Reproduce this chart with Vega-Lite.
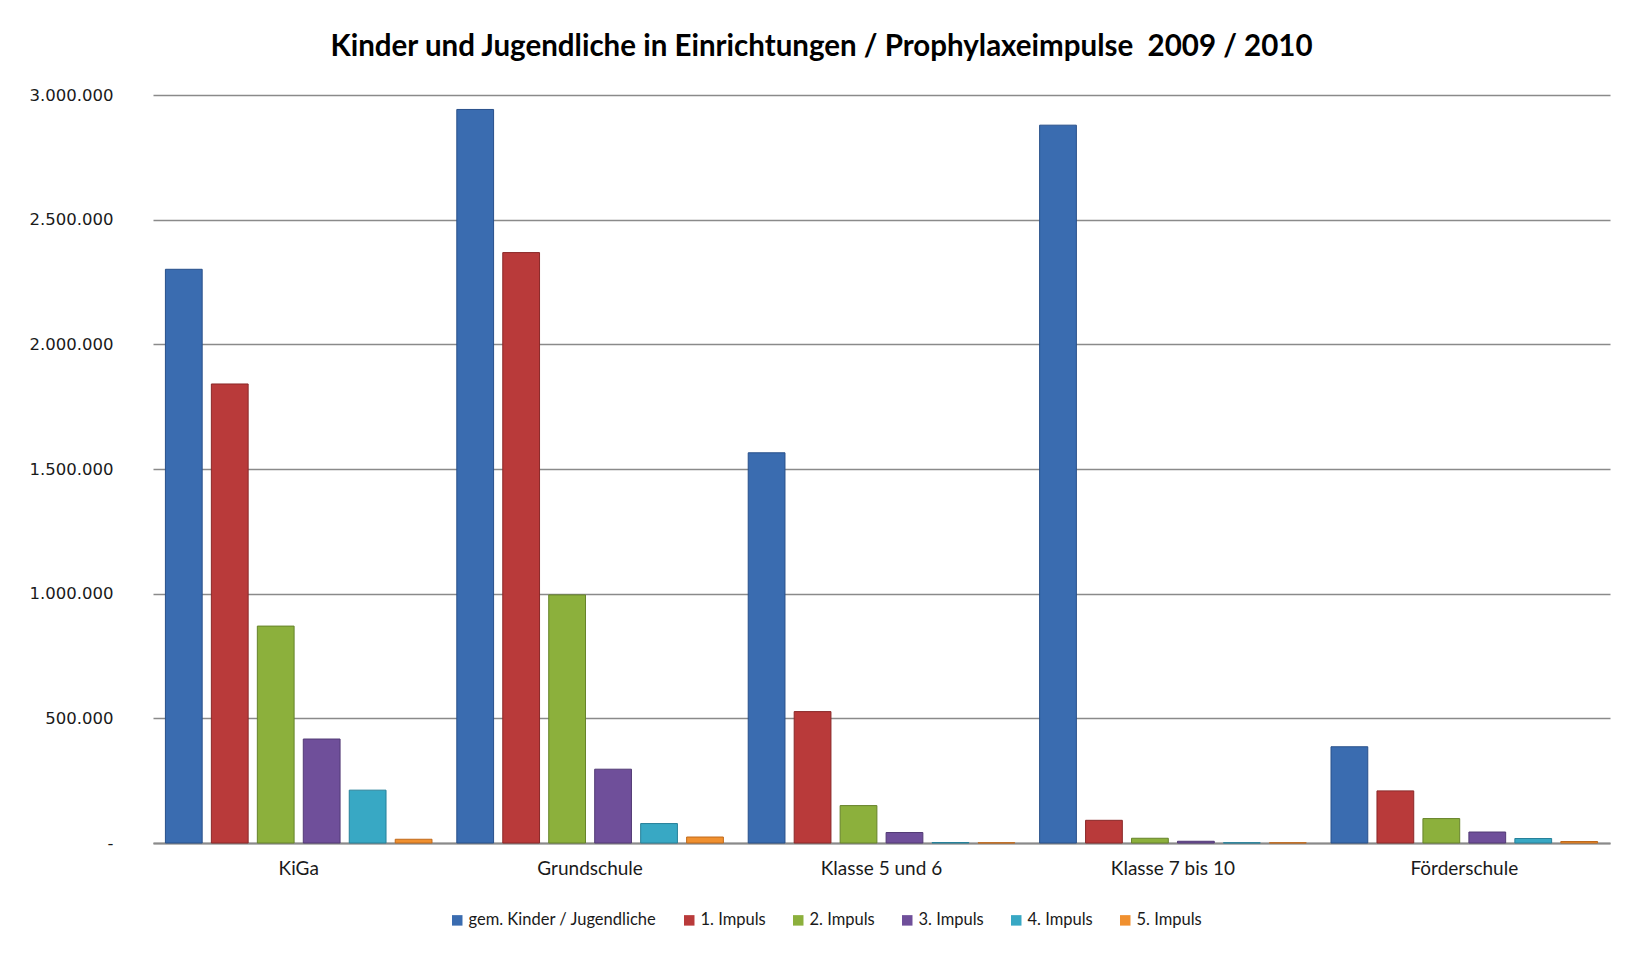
{
  "$schema": "https://vega.github.io/schema/vega-lite/v6.json",
  "width": 1457,
  "height": 748,
  "autosize": {"type": "none"},
  "padding": {"left": 153, "top": 95, "right": 26, "bottom": 111},
  "background": "white",
  "config": {
    "view": {"stroke": null},
    "axis": {"gridColor": "#8a8a8a", "gridWidth": 1.5}
  },
  "title": {
    "text": "Kinder und Jugendliche in Einrichtungen / Prophylaxeimpulse\u00a0 2009 / 2010",
    "font": "Lato",
    "fontSize": 29.5,
    "fontWeight": "bold",
    "color": "#000000",
    "anchor": "middle",
    "dx": -60,
    "offset": 25
  },
  "data": {
    "values": [
      {"Einrichtung": "KiGa", "Serie": "gem. Kinder / Jugendliche", "Wert": 2301000},
      {"Einrichtung": "KiGa", "Serie": "1. Impuls", "Wert": 1841000},
      {"Einrichtung": "KiGa", "Serie": "2. Impuls", "Wert": 870000},
      {"Einrichtung": "KiGa", "Serie": "3. Impuls", "Wert": 417000},
      {"Einrichtung": "KiGa", "Serie": "4. Impuls", "Wert": 212000},
      {"Einrichtung": "KiGa", "Serie": "5. Impuls", "Wert": 15000},
      {"Einrichtung": "Grundschule", "Serie": "gem. Kinder / Jugendliche", "Wert": 2942000},
      {"Einrichtung": "Grundschule", "Serie": "1. Impuls", "Wert": 2368000},
      {"Einrichtung": "Grundschule", "Serie": "2. Impuls", "Wert": 995000},
      {"Einrichtung": "Grundschule", "Serie": "3. Impuls", "Wert": 296000},
      {"Einrichtung": "Grundschule", "Serie": "4. Impuls", "Wert": 78000},
      {"Einrichtung": "Grundschule", "Serie": "5. Impuls", "Wert": 24000},
      {"Einrichtung": "Klasse 5 und 6", "Serie": "gem. Kinder / Jugendliche", "Wert": 1565000},
      {"Einrichtung": "Klasse 5 und 6", "Serie": "1. Impuls", "Wert": 527000},
      {"Einrichtung": "Klasse 5 und 6", "Serie": "2. Impuls", "Wert": 150000},
      {"Einrichtung": "Klasse 5 und 6", "Serie": "3. Impuls", "Wert": 42000},
      {"Einrichtung": "Klasse 5 und 6", "Serie": "4. Impuls", "Wert": 2000},
      {"Einrichtung": "Klasse 5 und 6", "Serie": "5. Impuls", "Wert": 1000},
      {"Einrichtung": "Klasse 7 bis 10", "Serie": "gem. Kinder / Jugendliche", "Wert": 2879000},
      {"Einrichtung": "Klasse 7 bis 10", "Serie": "1. Impuls", "Wert": 91000},
      {"Einrichtung": "Klasse 7 bis 10", "Serie": "2. Impuls", "Wert": 19000},
      {"Einrichtung": "Klasse 7 bis 10", "Serie": "3. Impuls", "Wert": 7000},
      {"Einrichtung": "Klasse 7 bis 10", "Serie": "4. Impuls", "Wert": 1000},
      {"Einrichtung": "Klasse 7 bis 10", "Serie": "5. Impuls", "Wert": 1000},
      {"Einrichtung": "Förderschule", "Serie": "gem. Kinder / Jugendliche", "Wert": 386000},
      {"Einrichtung": "Förderschule", "Serie": "1. Impuls", "Wert": 209000},
      {"Einrichtung": "Förderschule", "Serie": "2. Impuls", "Wert": 98000},
      {"Einrichtung": "Förderschule", "Serie": "3. Impuls", "Wert": 44000},
      {"Einrichtung": "Förderschule", "Serie": "4. Impuls", "Wert": 18000},
      {"Einrichtung": "Förderschule", "Serie": "5. Impuls", "Wert": 6000}
    ]
  },
  "mark": {"type": "bar", "strokeWidth": 1},
  "encoding": {
    "x": {
      "field": "Einrichtung",
      "type": "nominal",
      "sort": ["KiGa", "Grundschule", "Klasse 5 und 6", "Klasse 7 bis 10", "Förderschule"],
      "scale": {"paddingInner": 0, "paddingOuter": 0},
      "axis": {
        "title": null,
        "labelAngle": 0,
        "labelFont": "Lato",
        "labelFontSize": 19,
        "labelColor": "#1a1a1a",
        "labelPadding": 16,
        "ticks": false,
        "domainColor": "#8a8a8a",
        "domainWidth": 2
      }
    },
    "xOffset": {
      "field": "Serie",
      "type": "nominal",
      "sort": ["gem. Kinder / Jugendliche", "1. Impuls", "2. Impuls", "3. Impuls", "4. Impuls", "5. Impuls"],
      "scale": {"paddingInner": 0.2, "paddingOuter": 0.27}
    },
    "y": {
      "field": "Wert",
      "type": "quantitative",
      "scale": {"domain": [0, 3000000], "nice": false},
      "axis": {
        "title": null,
        "values": [0, 500000, 1000000, 1500000, 2000000, 2500000, 3000000],
        "labelExpr": "datum.value == 0 ? '-' : replace(format(datum.value, ',d'), /,/g, '.')",
        "labelFont": "DejaVu Sans",
        "labelFontSize": 16.5,
        "labelColor": "#1a1a1a",
        "labelPadding": 40,
        "ticks": false,
        "domain": false
      }
    },
    "color": {
      "field": "Serie",
      "type": "nominal",
      "sort": ["gem. Kinder / Jugendliche", "1. Impuls", "2. Impuls", "3. Impuls", "4. Impuls", "5. Impuls"],
      "scale": {"range": ["#3a6cb0", "#b93a3a", "#8cb03c", "#6f4f9a", "#38a8c4", "#f0902f"]},
      "legend": {
        "title": null,
        "orient": "none",
        "legendX": 296,
        "legendY": 817,
        "direction": "horizontal",
        "symbolType": "square",
        "symbolSize": 110,
        "symbolStrokeWidth": 1,
        "labelFont": "Lato",
        "labelFontSize": 16.5,
        "labelLimit": 0,
        "labelColor": "#1a1a1a",
        "labelOffset": 3,
        "columnPadding": 24
      }
    },
    "stroke": {
      "field": "Serie",
      "type": "nominal",
      "sort": ["gem. Kinder / Jugendliche", "1. Impuls", "2. Impuls", "3. Impuls", "4. Impuls", "5. Impuls"],
      "scale": {"range": ["#28508a", "#8a2828", "#66832a", "#523a75", "#27819a", "#c06a1c"]},
      "legend": null
    }
  }
}
